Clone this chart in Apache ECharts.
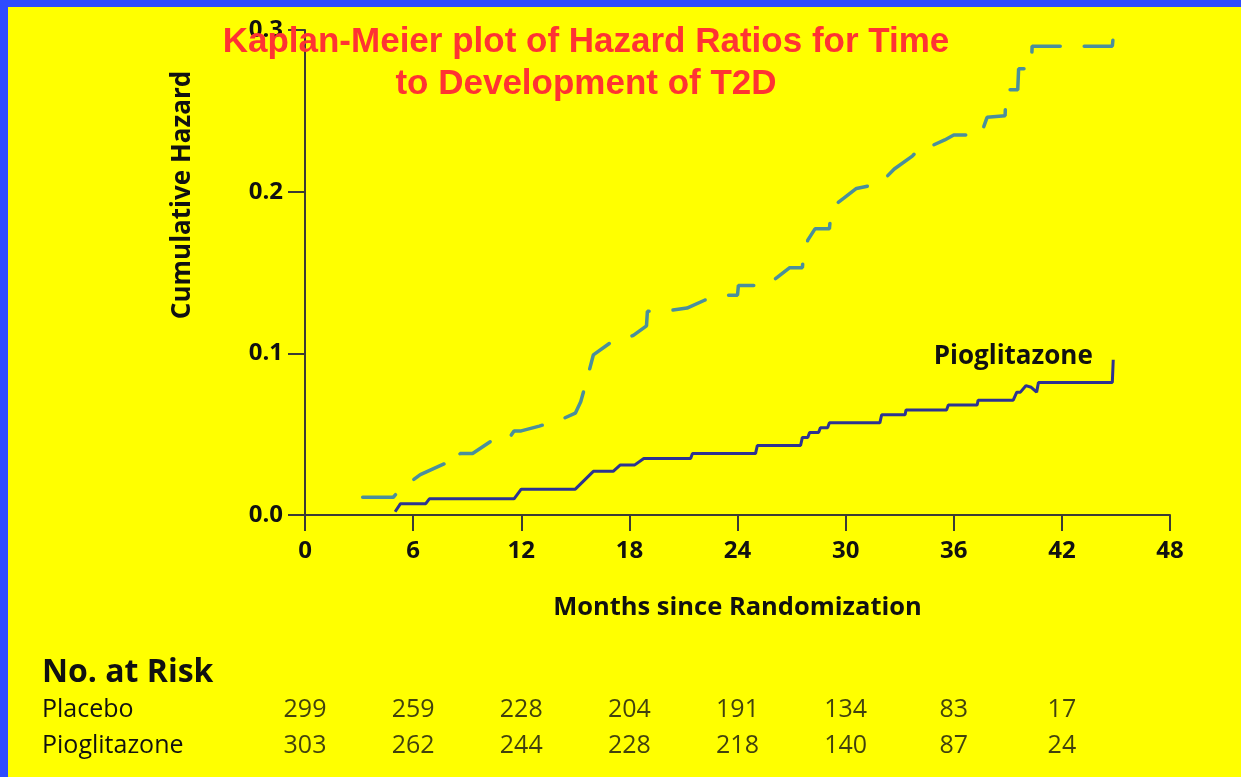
<!DOCTYPE html>
<html>
<head>
<meta charset="utf-8">
<script src="https://cdn.jsdelivr.net/npm/echarts@6/dist/echarts.min.js"></script>
<style>
  html, body { margin: 0; padding: 0; background: #ffff00; }
  #main { width: 1241px; height: 777px; }
</style>
</head>
<body>
<div id="main"></div>
<script>
// curves: [month, cumulative hazard]
let placebo = [
  [3.2, 0.011], [4.9, 0.011], [5.3, 0.016], [6.4, 0.025], [7.8, 0.032], [8.5, 0.032],
  [8.6, 0.038], [9.3, 0.038], [10.5, 0.047], [11.3, 0.047], [11.6, 0.052], [12.0, 0.052],
  [13.0, 0.055], [14.2, 0.059], [15.0, 0.063], [15.3, 0.070], [15.6, 0.082], [16.0, 0.099],
  [17.0, 0.107], [18.2, 0.111], [18.95, 0.117], [19.0, 0.126], [19.9, 0.126], [21.2, 0.128],
  [22.2, 0.133], [23.4, 0.136], [24.0, 0.136], [24.05, 0.142], [24.7, 0.142], [25.6, 0.142],
  [26.2, 0.147], [26.9, 0.153], [27.6, 0.153], [27.65, 0.159], [27.9, 0.170], [28.3, 0.177],
  [29.1, 0.177], [29.15, 0.183], [29.3, 0.191], [29.9, 0.196], [30.6, 0.202], [31.9, 0.205],
  [32.7, 0.214], [33.7, 0.222], [34.3, 0.229], [34.9, 0.229], [35.5, 0.232], [36.0, 0.235],
  [37.5, 0.235], [37.85, 0.246], [38.85, 0.247], [38.9, 0.263], [39.55, 0.263], [39.6, 0.276],
  [40.3, 0.276], [40.35, 0.290], [44.8, 0.290], [44.85, 0.296]
];
let pioglitazone = [
  [5.0, 0.002], [5.3, 0.007], [6.7, 0.007], [6.9, 0.010], [11.6, 0.010], [12.0, 0.016],
  [15.0, 0.016], [16.0, 0.027], [17.1, 0.027], [17.5, 0.031], [18.3, 0.031], [18.8, 0.035],
  [21.4, 0.035], [21.5, 0.038], [25.0, 0.038], [25.1, 0.043], [27.5, 0.043], [27.6, 0.048],
  [27.9, 0.048], [28.0, 0.051], [28.5, 0.051], [28.6, 0.054], [29.0, 0.054], [29.1, 0.057],
  [31.9, 0.057], [32.0, 0.062], [33.3, 0.062], [33.35, 0.065], [35.6, 0.065], [35.7, 0.068],
  [37.3, 0.068], [37.35, 0.071], [39.3, 0.071], [39.5, 0.076], [39.7, 0.076], [40.0, 0.080],
  [40.3, 0.079], [40.6, 0.076], [40.7, 0.082], [44.8, 0.082], [44.85, 0.096]
];

// number at risk table
let riskMonths = [0, 6, 12, 18, 24, 30, 36, 42];
let riskGroups = ["Placebo", "Pioglitazone"];
let riskPlacebo = [299, 259, 228, 204, 191, 134, 83, 17];
let riskPioglitazone = [303, 262, 244, 228, 218, 140, 87, 24];

let axisColor = "#3b3b35";
let riskData = [];
for (let i = 0; i < riskMonths.length; i++) {
  riskData.push([riskMonths[i], riskGroups[0], riskPlacebo[i]]);
  riskData.push([riskMonths[i], riskGroups[1], riskPioglitazone[i]]);
}

let chart = echarts.init(document.getElementById("main"));
let option = {
  backgroundColor: "#ffff00",
  animation: false,
  title: {
    text: "Kaplan-Meier plot of Hazard Ratios for Time\nto Development of T2D",
    left: 586,
    top: 21,
    padding: 0,
    textAlign: "center",
    textStyle: {
      color: "#ff3333",
      fontFamily: "Liberation Sans",
      fontWeight: "bold",
      fontSize: 35,
      lineHeight: 42
    }
  },
  graphic: [
    { type: "rect", shape: { x: 0, y: 0, width: 1241, height: 7 }, style: { fill: "#2e4bff" } },
    { type: "rect", shape: { x: 0, y: 0, width: 8, height: 777 }, style: { fill: "#2e4bff" } },
    {
      type: "text", x: 183, y: 195, rotation: Math.PI / 2,
      style: {
        text: "Cumulative Hazard", textAlign: "center", textVerticalAlign: "middle",
        fontFamily: "Open Sans", fontWeight: "bold", fontSize: 26, fill: "#111"
      }
    },
    {
      type: "text", x: 42, y: 673,
      style: {
        text: "No. at Risk", textAlign: "left", textVerticalAlign: "middle",
        fontFamily: "Open Sans", fontWeight: "bold", fontSize: 32, fill: "#111"
      }
    }
  ],
  grid: [
    { left: 305, right: 71, top: 30, bottom: 262 },
    { left: 305, right: 71, top: 692, height: 72 }
  ],
  xAxis: [
    {
      type: "value", gridIndex: 0, min: 0, max: 48, interval: 6,
      name: "Months since Randomization",
      nameLocation: "middle", nameGap: 80,
      nameTextStyle: { fontFamily: "Open Sans", fontWeight: "bold", fontSize: 25.5, color: "#111" },
      axisLine: { lineStyle: { color: axisColor, width: 2 } },
      axisTick: { length: 16, lineStyle: { color: axisColor, width: 2 } },
      axisLabel: { margin: 24, fontFamily: "Open Sans", fontWeight: "bold", fontSize: 24, color: "#111" },
      splitLine: { show: false }
    },
    { type: "value", gridIndex: 1, min: 0, max: 48, show: false }
  ],
  yAxis: [
    {
      type: "value", gridIndex: 0, min: 0, max: 0.3, interval: 0.1,
      axisLine: { show: true, lineStyle: { color: axisColor, width: 2 } },
      axisTick: { show: true, length: 17, lineStyle: { color: axisColor, width: 2 } },
      axisLabel: {
        margin: 22, fontFamily: "Open Sans", fontWeight: "bold", fontSize: 24, color: "#111",
        formatter: function (v) { return v.toFixed(1); }
      },
      splitLine: { show: false }
    },
    {
      type: "category", gridIndex: 1, data: riskGroups, inverse: true,
      axisLine: { show: false }, axisTick: { show: false },
      axisLabel: { align: "left", margin: 263, fontFamily: "Open Sans", fontSize: 25, color: "#111" }
    }
  ],
  series: [
    {
      name: "Placebo", type: "line", xAxisIndex: 0, yAxisIndex: 0,
      data: placebo, showSymbol: false, symbol: "none",
      lineStyle: { color: "#4a8f9c", width: 3.5, type: [34, 24], cap: "round" }
    },
    {
      name: "Pioglitazone", type: "line", xAxisIndex: 0, yAxisIndex: 0,
      data: pioglitazone, showSymbol: false, symbol: "none",
      lineStyle: { color: "#2d3391", width: 3 },
      markPoint: {
        symbol: "circle", symbolSize: 1, itemStyle: { color: "transparent" },
        label: {
          show: true, position: "inside", formatter: "Pioglitazone",
          fontFamily: "Open Sans", fontWeight: "bold", fontSize: 26, color: "#111"
        },
        data: [{ coord: [39.3, 0.098] }]
      }
    },
    {
      name: "At risk", type: "scatter", xAxisIndex: 1, yAxisIndex: 1,
      data: riskData, symbolSize: 1, itemStyle: { color: "transparent" },
      label: {
        show: true, position: "inside",
        formatter: function (p) { return p.value[2]; },
        fontFamily: "Open Sans", fontSize: 25, color: "#111"
      }
    }
  ]
};
chart.setOption(option);
</script>
</body>
</html>
